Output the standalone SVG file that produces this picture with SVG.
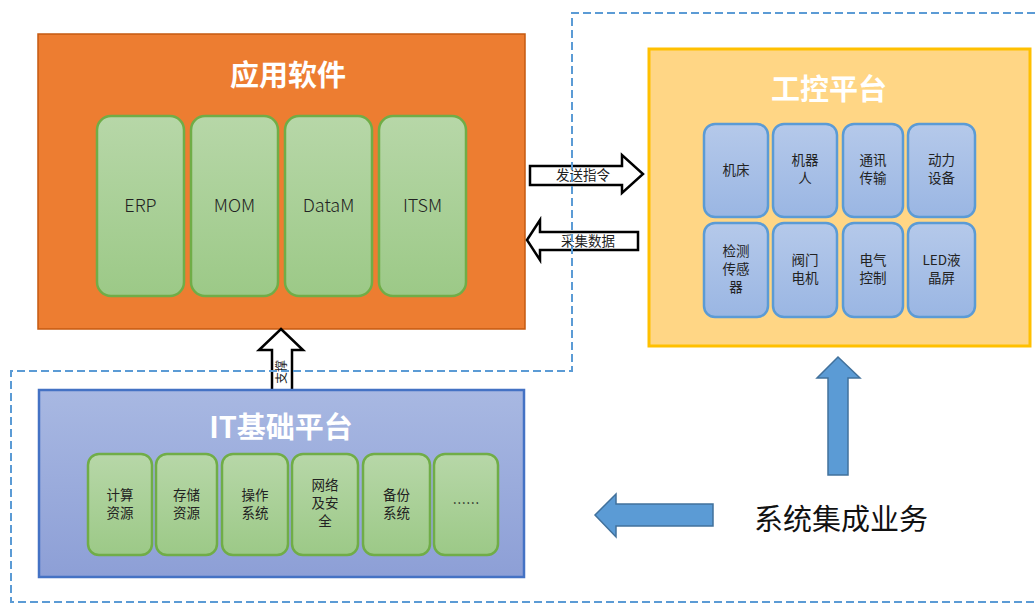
<svg xmlns="http://www.w3.org/2000/svg" width="1035" height="603" viewBox="0 0 1035 603">
<defs>
<linearGradient id="gG" x1="0" y1="0" x2="0" y2="1"><stop offset="0" stop-color="#B7D7A8"/><stop offset="1" stop-color="#9CC987"/></linearGradient>
<linearGradient id="bG" x1="0" y1="0" x2="0" y2="1"><stop offset="0" stop-color="#B5C9EA"/><stop offset="1" stop-color="#9AB6E3"/></linearGradient>
<linearGradient id="itG" x1="0" y1="0" x2="0" y2="1"><stop offset="0" stop-color="#A8B8E2"/><stop offset="1" stop-color="#8D9FD6"/></linearGradient>
<style>
.cn{font-family:"Noto Sans CJK SC","Liberation Sans",sans-serif;}
.title{font-size:29px;font-weight:bold;fill:#FFFFFF;text-anchor:middle;}
.gbox{fill:url(#gG);stroke:#70AD47;stroke-width:2.5;}
.bbox{fill:url(#bG);stroke:#5B9BD5;stroke-width:2.5;}
.lbl{font-size:18px;fill:#222;text-anchor:middle;font-weight:300;}
.sm{font-size:13.5px;fill:#222;text-anchor:middle;}
.wa{fill:#FFFFFF;stroke:#000;stroke-width:2.5;stroke-linejoin:miter;}
.ba{fill:#5B9BD5;stroke:#41719C;stroke-width:1.5;}
.dash{fill:none;stroke:#5B9BD5;stroke-width:2;stroke-dasharray:8 4;}
</style>
</defs>
<rect width="1035" height="603" fill="#FFFFFF"/>

<g id="app">
<rect x="38" y="34" width="487" height="295" fill="#ED7D31" stroke="#C55A11" stroke-width="1.5"/>
<text class="cn title" x="288" y="86">应用软件</text>
</g>
<g id="erp"><rect class="gbox" x="97" y="116" width="87" height="180" rx="14"/><text class="cn lbl" x="140.5" y="212">ERP</text></g>
<g id="mom"><rect class="gbox" x="191" y="116" width="87" height="180" rx="14"/><text class="cn lbl" x="234.5" y="212">MOM</text></g>
<g id="datam"><rect class="gbox" x="285" y="116" width="87" height="180" rx="14"/><text class="cn lbl" x="328.5" y="212">DataM</text></g>
<g id="itsm"><rect class="gbox" x="379" y="116" width="87" height="180" rx="14"/><text class="cn lbl" x="422.5" y="212">ITSM</text></g>

<g id="ics">
<rect x="649" y="49" width="381" height="297" fill="#FFD685" stroke="#FFC000" stroke-width="3"/>
<text class="cn title" x="829" y="100">工控平台</text>
</g>
<g id="n1"><rect class="bbox" x="704" y="124" width="64" height="93" rx="11"/><text class="cn sm" x="736" y="175">机床</text></g>
<g id="n2"><rect class="bbox" x="773" y="124" width="64" height="93" rx="11"/><text class="cn sm" x="805" y="165">机器</text><text class="cn sm" x="805" y="183">人</text></g>
<g id="n3"><rect class="bbox" x="843" y="124" width="60" height="93" rx="11"/><text class="cn sm" x="873" y="165">通讯</text><text class="cn sm" x="873" y="183">传输</text></g>
<g id="n4"><rect class="bbox" x="908" y="124" width="67" height="93" rx="11"/><text class="cn sm" x="941.5" y="165">动力</text><text class="cn sm" x="941.5" y="183">设备</text></g>
<g id="n5"><rect class="bbox" x="704" y="223" width="64" height="94" rx="11"/><text class="cn sm" x="736" y="256">检测</text><text class="cn sm" x="736" y="274">传感</text><text class="cn sm" x="736" y="292">器</text></g>
<g id="n6"><rect class="bbox" x="773" y="223" width="64" height="94" rx="11"/><text class="cn sm" x="805" y="265">阀门</text><text class="cn sm" x="805" y="283">电机</text></g>
<g id="n7"><rect class="bbox" x="843" y="223" width="60" height="94" rx="11"/><text class="cn sm" x="873" y="265">电气</text><text class="cn sm" x="873" y="283">控制</text></g>
<g id="n8"><rect class="bbox" x="908" y="223" width="67" height="94" rx="11"/><text class="cn sm" x="941.5" y="265">LED液</text><text class="cn sm" x="941.5" y="283">晶屏</text></g>

<g id="connectors">
<path class="wa" d="M530,166 L622,166 L622,155 L643,174 L622,193 L622,185 L530,185 Z"/>
<text class="cn sm" x="583" y="180">发送指令</text>
<path class="wa" d="M527,240 L540,220 L540,232 L638,232 L638,250 L540,250 L540,260 Z"/>
<text class="cn sm" x="588" y="246">采集数据</text>
<path class="wa" d="M281,329 L303,350 L292,350 L292,392 L272,392 L272,350 L259,350 Z"/>
<text class="cn" font-size="12" fill="#222" text-anchor="middle" transform="translate(286,372) rotate(-90)">支撑</text>
<path class="ba" d="M838,357 L860,378 L848,378 L848,475 L828,475 L828,378 L817,378 Z"/>
<path class="ba" d="M595,515 L616,494 L616,504 L713,504 L713,526 L616,526 L616,537 Z"/>
</g>

<g id="it">
<rect x="39" y="390" width="485" height="187" fill="url(#itG)" stroke="#4472C4" stroke-width="2.5"/>
<text class="cn title" x="281" y="438">IT基础平台</text>
</g>
<g id="i1"><rect class="gbox" x="88" y="454" width="64" height="101" rx="11"/><text class="cn sm" x="120" y="500">计算</text><text class="cn sm" x="120" y="518">资源</text></g>
<g id="i2"><rect class="gbox" x="156" y="454" width="61" height="101" rx="11"/><text class="cn sm" x="186.5" y="500">存储</text><text class="cn sm" x="186.5" y="518">资源</text></g>
<g id="i3"><rect class="gbox" x="222" y="454" width="66" height="101" rx="11"/><text class="cn sm" x="255" y="500">操作</text><text class="cn sm" x="255" y="518">系统</text></g>
<g id="i4"><rect class="gbox" x="292" y="454" width="66" height="101" rx="11"/><text class="cn sm" x="325" y="490">网络</text><text class="cn sm" x="325" y="508">及安</text><text class="cn sm" x="325" y="526">全</text></g>
<g id="i5"><rect class="gbox" x="363" y="454" width="67" height="101" rx="11"/><text class="cn sm" x="396.5" y="500">备份</text><text class="cn sm" x="396.5" y="518">系统</text></g>
<g id="i6"><rect class="gbox" x="434" y="454" width="64" height="101" rx="11"/><text class="cn sm" x="466" y="508">……</text></g>

<g id="sib"><text class="cn" x="841" y="530" font-size="29" fill="#111" text-anchor="middle">系统集成业务</text></g>

<g id="boundary">
<path class="dash" d="M1035,13 L572,13 L572,371 L11,371 L11,602 L1035,602"/>
</g>
</svg>
